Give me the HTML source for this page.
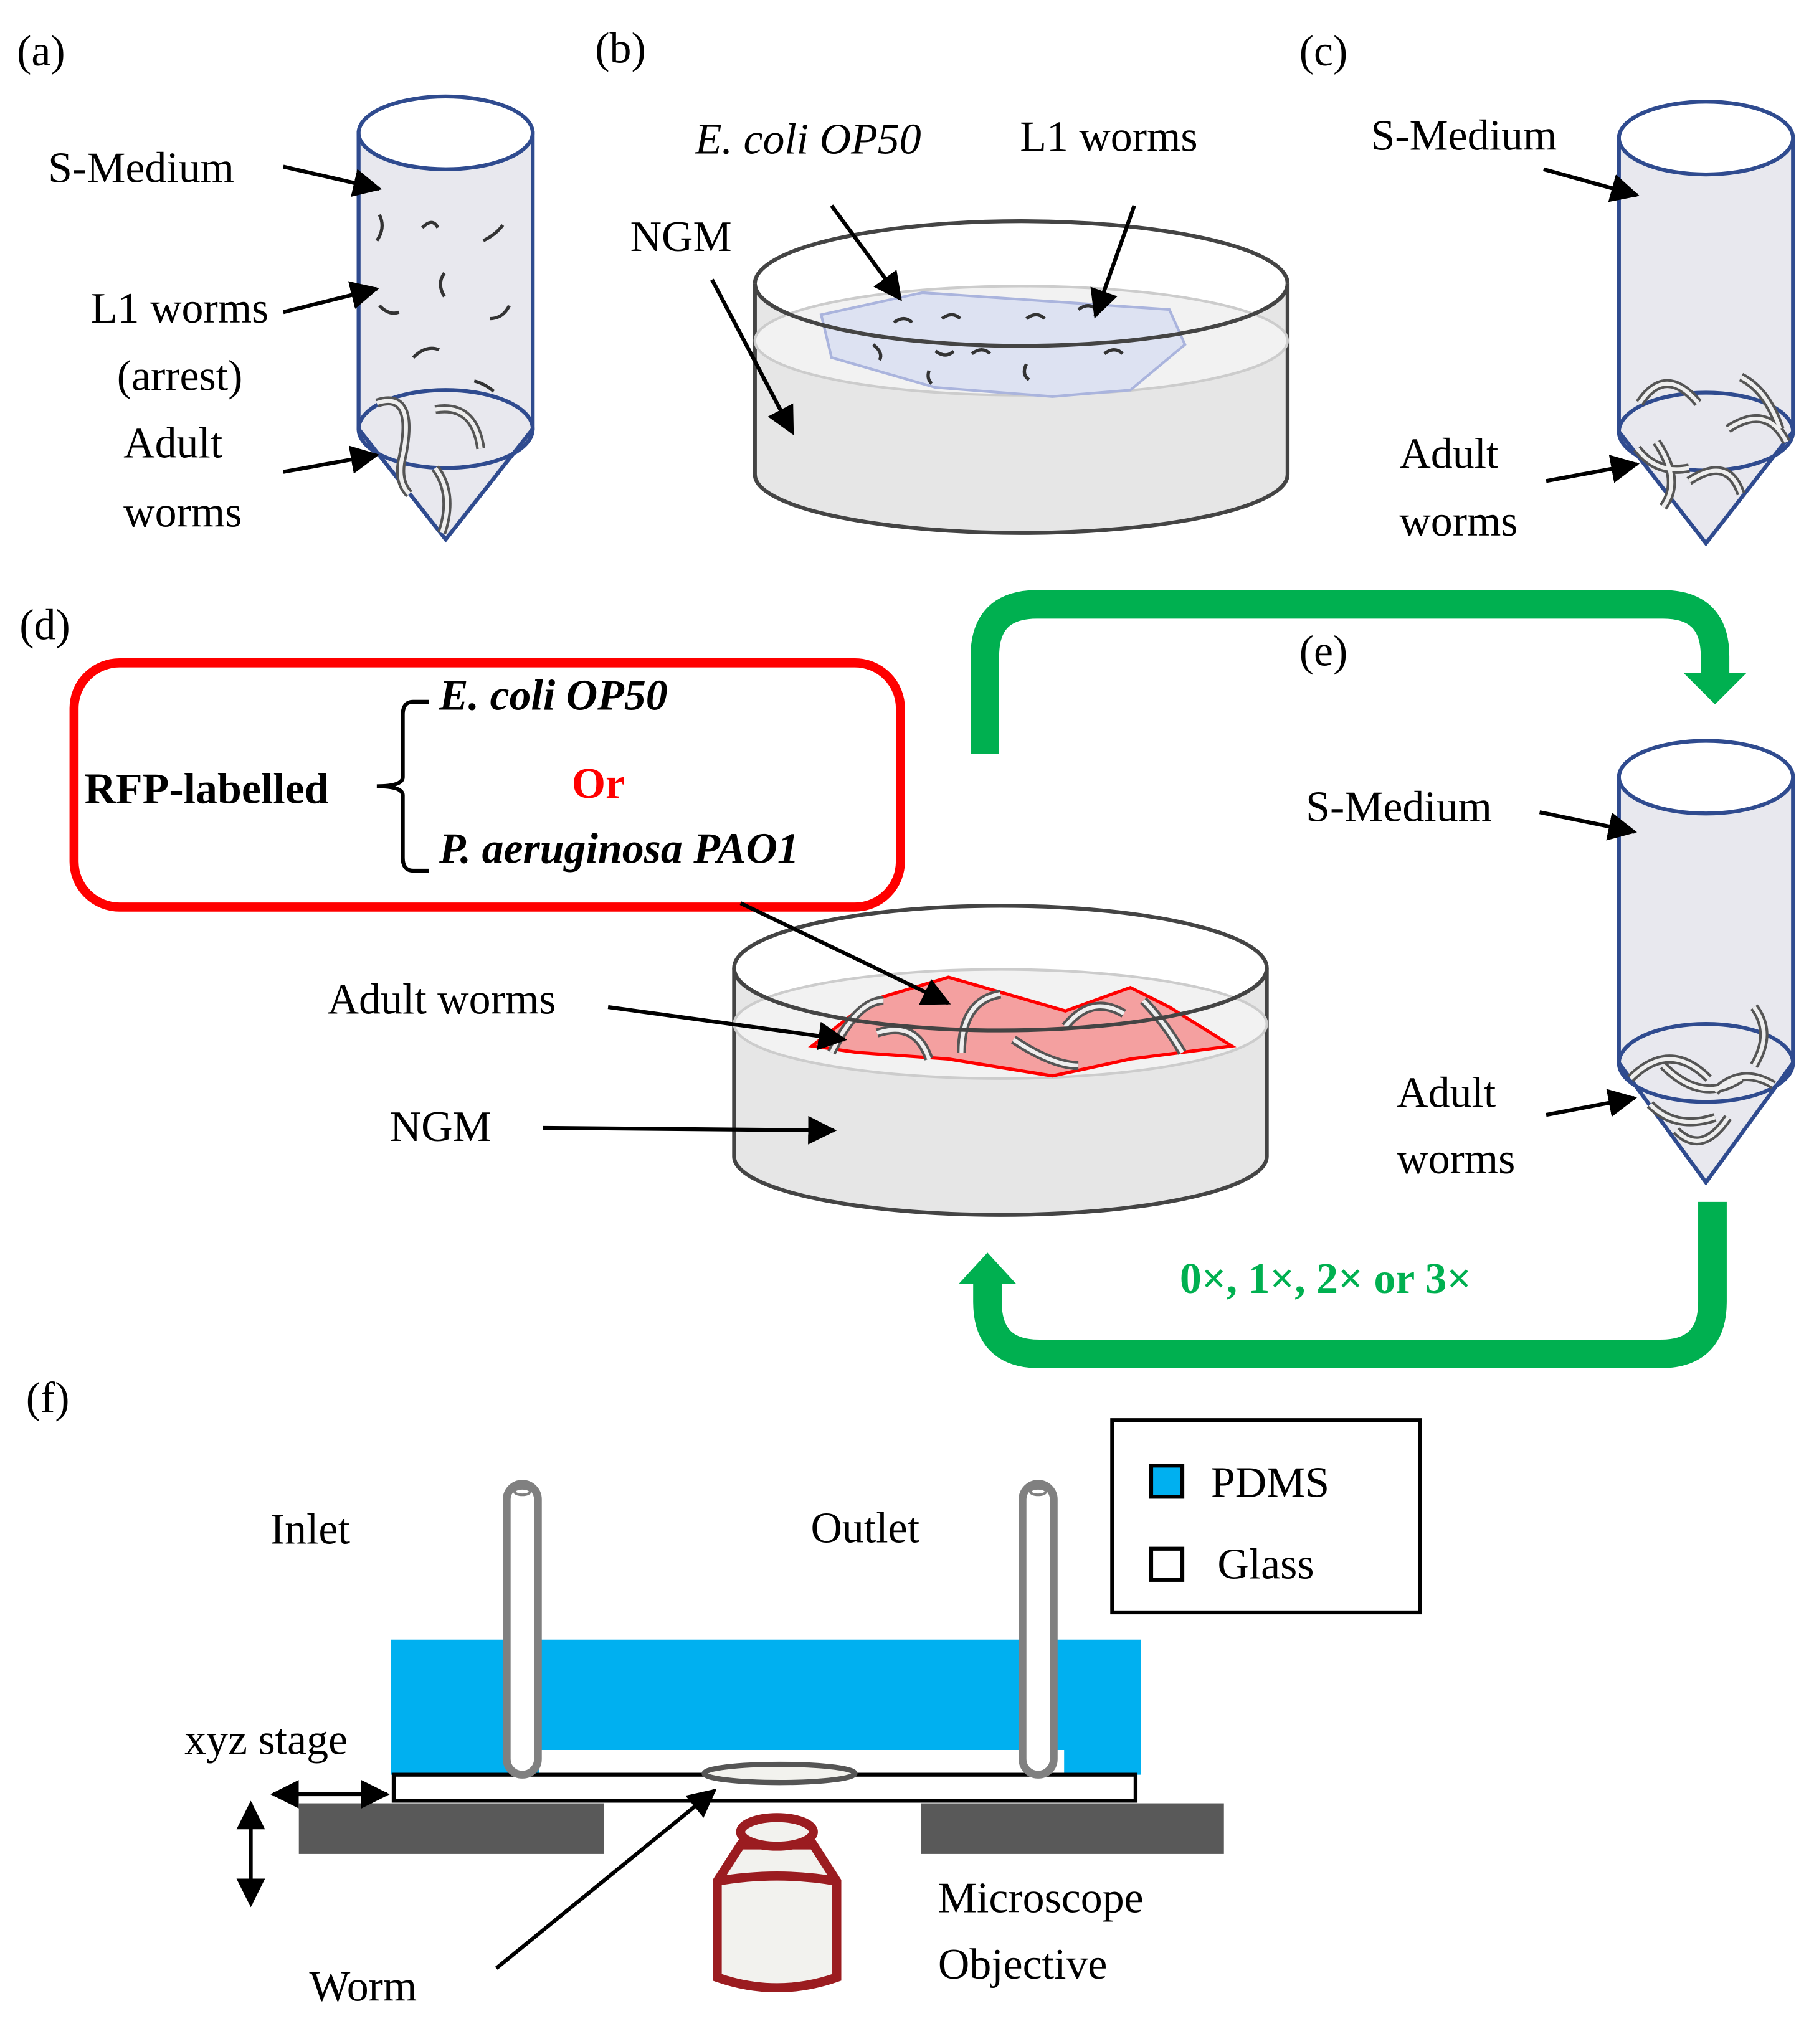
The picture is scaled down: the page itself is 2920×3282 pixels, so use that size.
<!DOCTYPE html>
<html><head><meta charset="utf-8"><style>
html,body{margin:0;padding:0;background:#fff;}
svg{display:block;}
text{font-family:"Liberation Serif",serif;font-size:33.5px;fill:#000;}
</style></head><body>
<svg width="2920" height="3282" viewBox="0 0 1400 1573" xmlns="http://www.w3.org/2000/svg">
<defs>
<marker id="ah2" markerWidth="22" markerHeight="22" refX="20" refY="11" orient="auto" markerUnits="userSpaceOnUse" viewBox="0 0 22 22">
<path d="M0,0 L22,11 L0,22 z" fill="#000"/></marker>
<marker id="ahs" markerWidth="22" markerHeight="22" refX="20" refY="11" orient="auto-start-reverse" markerUnits="userSpaceOnUse" viewBox="0 0 22 22">
<path d="M0,0 L22,11 L0,22 z" fill="#000"/></marker>
</defs>

<!-- (a) -->
<text x="13" y="50">(a)</text>
<g stroke="#2f4b8f" stroke-width="3" fill="#e8e8ee">
<path d="M276,102 L276,330 L343,415 L410,330 L410,102 Z"/>
<ellipse cx="343" cy="102" rx="67" ry="28" fill="#fff"/>
<ellipse cx="343" cy="330" rx="67" ry="30" fill="none"/>
</g>
<g stroke="#333" stroke-width="2.5" fill="none">
<path d="M292,165 q5,10 -2,20"/><path d="M325,175 q8,-8 12,0"/><path d="M372,185 q10,-5 15,-12"/>
<path d="M342,210 q-6,8 0,18"/><path d="M292,235 q8,8 15,5"/><path d="M377,245 q10,0 15,-10"/>
<path d="M318,275 q10,-10 20,-6"/><path d="M365,293 q8,2 15,8"/>
</g>
<g stroke="#555" stroke-width="7" fill="none"><path d="M290,310 q30,-10 20,40 q-5,20 5,30"/><path d="M335,315 q30,-5 35,30"/><path d="M335,360 q15,20 5,50"/></g>
<g stroke="#eee" stroke-width="3" fill="none"><path d="M290,310 q30,-10 20,40 q-5,20 5,30"/><path d="M335,315 q30,-5 35,30"/><path d="M335,360 q15,20 5,50"/></g>
<text x="37" y="140">S-Medium</text>
<text x="70" y="248">L1 worms</text>
<text x="90" y="300">(arrest)</text>
<text x="95" y="352">Adult</text>
<text x="95" y="405">worms</text>
<g stroke="#000" stroke-width="3" marker-end="url(#ah2)">
<line x1="218" y1="128" x2="292" y2="145"/><line x1="218" y1="240" x2="290" y2="222"/><line x1="218" y1="363" x2="290" y2="350"/>
</g>

<!-- (b) -->
<text x="458" y="48">(b)</text>
<g stroke="#444" stroke-width="3">
<path d="M581,218 L581,365 A205,45 0 0 0 991,365 L991,218 A205,48 0 0 1 581,218 Z" fill="#e6e6e6"/>
<ellipse cx="786" cy="262" rx="205" ry="42" fill="#f2f2f2" stroke="#ccc" stroke-width="2"/>
<path d="M581,218 A205,48 0 0 1 991,218" fill="none"/>
</g>
<path d="M632,242 L710,225 L900,238 L912,265 L870,300 L810,305 L720,298 L640,275 Z" fill="#dde2f2" stroke="#aab4dd" stroke-width="2"/>
<g stroke="#333" stroke-width="2.5" fill="none">
<path d="M688,248 q8,-6 14,0"/><path d="M725,245 q8,-6 14,0"/><path d="M790,245 q8,-6 14,0"/><path d="M830,238 q8,-6 14,0"/>
<path d="M672,265 q8,6 5,12"/><path d="M720,270 q8,6 14,0"/><path d="M748,272 q8,-6 14,0"/><path d="M790,280 q-4,8 2,12"/><path d="M850,272 q8,-6 14,0"/><path d="M715,285 q-2,6 2,10"/>
</g>
<path d="M581,218 A205,48 0 0 0 991,218" fill="none" stroke="#444" stroke-width="3"/>
<text x="535" y="118" font-style="italic">E. coli OP50</text>
<text x="785" y="116">L1 worms</text>
<text x="485" y="193">NGM</text>
<g stroke="#000" stroke-width="3" marker-end="url(#ah2)">
<line x1="640" y1="158" x2="693" y2="230"/><line x1="873" y1="158" x2="843" y2="243"/><line x1="548" y1="215" x2="610" y2="333"/>
</g>

<!-- (c) -->
<text x="1000" y="50">(c)</text>
<g stroke="#2f4b8f" stroke-width="3" fill="#e8e8ee">
<path d="M1246,106 L1246,332 L1313,418 L1380,332 L1380,106 Z"/>
<ellipse cx="1313" cy="106" rx="67" ry="28" fill="#fff"/>
<ellipse cx="1313" cy="332" rx="67" ry="30" fill="none"/>
</g>
<g fill="none">
<g stroke="#555" stroke-width="7"><path d="M1262,310 q20,-30 45,0"/><path d="M1275,340 q20,30 5,50"/><path d="M1300,370 q30,-20 40,10"/><path d="M1330,330 q30,-20 45,10"/><path d="M1340,290 q20,10 30,40"/><path d="M1260,345 q15,20 40,15"/></g>
<g stroke="#eee" stroke-width="3"><path d="M1262,310 q20,-30 45,0"/><path d="M1275,340 q20,30 5,50"/><path d="M1300,370 q30,-20 40,10"/><path d="M1330,330 q30,-20 45,10"/><path d="M1340,290 q20,10 30,40"/><path d="M1260,345 q15,20 40,15"/></g>
</g>
<text x="1055" y="115">S-Medium</text>
<text x="1077" y="360">Adult</text>
<text x="1077" y="412">worms</text>
<g stroke="#000" stroke-width="3" marker-end="url(#ah2)">
<line x1="1188" y1="130" x2="1260" y2="150"/><line x1="1190" y1="370" x2="1260" y2="357"/>
</g>

<!-- (d) -->
<text x="15" y="492">(d)</text>
<rect x="57" y="510" width="636" height="188" rx="35" fill="none" stroke="#ff0000" stroke-width="7"/>
<text x="65" y="618" font-weight="bold">RFP-labelled</text>
<path d="M330,540 L318,540 Q310,540 310,550 L310,598 Q310,605 290,605 Q310,605 310,612 L310,660 Q310,670 318,670 L330,670" fill="none" stroke="#000" stroke-width="3"/>
<text x="338" y="546" font-weight="bold" font-style="italic">E. coli OP50</text>
<text x="440" y="614" font-weight="bold" style="fill:#ff0000">Or</text>
<text x="338" y="664" font-weight="bold" font-style="italic">P. aeruginosa PAO1</text>
<g stroke="#444" stroke-width="3">
<path d="M565,745 L565,890 A205,45 0 0 0 975,890 L975,745 A205,48 0 0 1 565,745 Z" fill="#e6e6e6"/>
<ellipse cx="770" cy="788" rx="205" ry="42" fill="#f2f2f2" stroke="#ccc" stroke-width="2"/>
<path d="M565,745 A205,48 0 0 1 975,745" fill="none"/>
</g>
<path d="M625,805 L670,770 L730,752 L820,778 L870,760 L900,775 L948,805 L870,815 L810,828 L730,815 L660,810 Z" fill="#f4a0a0" stroke="#ff0000" stroke-width="2.5"/>
<g fill="none">
<g stroke="#555" stroke-width="7"><path d="M640,810 q20,-40 40,-40"/><path d="M675,795 q30,-10 40,20"/><path d="M740,810 q0,-40 30,-45"/><path d="M780,800 q30,20 50,20"/><path d="M820,790 q20,-25 45,-10"/><path d="M880,770 q15,15 30,40"/></g>
<g stroke="#eee" stroke-width="3"><path d="M640,810 q20,-40 40,-40"/><path d="M675,795 q30,-10 40,20"/><path d="M740,810 q0,-40 30,-45"/><path d="M780,800 q30,20 50,20"/><path d="M820,790 q20,-25 45,-10"/><path d="M880,770 q15,15 30,40"/></g>
</g>
<path d="M565,745 A205,48 0 0 0 975,745" fill="none" stroke="#444" stroke-width="3"/>
<text x="252" y="780">Adult worms</text>
<text x="300" y="878">NGM</text>
<g stroke="#000" stroke-width="3" marker-end="url(#ah2)">
<line x1="468" y1="775" x2="650" y2="800"/><line x1="418" y1="868" x2="642" y2="870"/><line x1="570" y1="695" x2="730" y2="772"/>
</g>

<!-- green arrows -->
<g stroke="#00b050" stroke-width="22" fill="none">
<path d="M758,580 L758,505 Q758,465 798,465 L1280,465 Q1320,465 1320,505 L1320,520"/>
<path d="M1318,925 L1318,1002 Q1318,1042 1278,1042 L800,1042 Q760,1042 760,1002 L760,985"/>
</g>
<path d="M1296,518 L1344,518 L1320,542 Z" fill="#00b050"/>
<path d="M738,988 L782,988 L760,964 Z" fill="#00b050"/>
<text x="908" y="995" font-weight="bold" style="fill:#00b050">0×, 1×, 2× or 3×</text>

<!-- (e) -->
<text x="1000" y="512">(e)</text>
<g stroke="#2f4b8f" stroke-width="3" fill="#e8e8ee">
<path d="M1246,598 L1246,818 L1313,910 L1380,818 L1380,598 Z"/>
<ellipse cx="1313" cy="598" rx="67" ry="28" fill="#fff"/>
<ellipse cx="1313" cy="818" rx="67" ry="30" fill="none"/>
</g>
<g fill="none">
<g stroke="#555" stroke-width="7"><path d="M1255,830 q30,-30 60,0"/><path d="M1280,820 q30,30 60,10"/><path d="M1350,775 q15,20 0,45"/><path d="M1270,850 q20,20 50,10"/><path d="M1290,870 q20,20 40,-10"/><path d="M1320,840 q20,-20 45,-5"/></g>
<g stroke="#eee" stroke-width="3"><path d="M1255,830 q30,-30 60,0"/><path d="M1280,820 q30,30 60,10"/><path d="M1350,775 q15,20 0,45"/><path d="M1270,850 q20,20 50,10"/><path d="M1290,870 q20,20 40,-10"/><path d="M1320,840 q20,-20 45,-5"/></g>
</g>
<text x="1005" y="632">S-Medium</text>
<text x="1075" y="852">Adult</text>
<text x="1075" y="903">worms</text>
<g stroke="#000" stroke-width="3" marker-end="url(#ah2)">
<line x1="1185" y1="625" x2="1258" y2="640"/><line x1="1190" y1="858" x2="1258" y2="845"/>
</g>

<!-- (f) -->
<text x="20" y="1087">(f)</text>
<rect x="856" y="1093" width="237" height="148" fill="#fff" stroke="#000" stroke-width="3"/>
<rect x="886" y="1128" width="24" height="24" fill="#00b0f0" stroke="#000" stroke-width="3"/>
<text x="932" y="1152">PDMS</text>
<rect x="886" y="1192" width="24" height="24" fill="#fff" stroke="#000" stroke-width="3"/>
<text x="937" y="1215">Glass</text>
<path d="M301,1262 L878,1262 L878,1366 L819,1366 L819,1347 L415,1347 L415,1366 L301,1366 Z" fill="#00b0f0"/>
<rect x="303" y="1366" width="571" height="20" fill="#fff" stroke="#000" stroke-width="3"/>
<g fill="#fff" stroke="#808080" stroke-width="6">
<rect x="390" y="1142" width="24" height="224" rx="12"/>
<rect x="787" y="1142" width="24" height="224" rx="12"/>
</g>
<ellipse cx="402" cy="1148" rx="6" ry="2.5" fill="#fff" stroke="#808080" stroke-width="2"/>
<ellipse cx="799" cy="1148" rx="6" ry="2.5" fill="#fff" stroke="#808080" stroke-width="2"/>
<ellipse cx="600" cy="1365" rx="58" ry="7" fill="#f2f2ee" stroke="#555" stroke-width="4"/>
<rect x="230" y="1388" width="235" height="39" fill="#595959"/>
<rect x="709" y="1388" width="233" height="39" fill="#595959"/>
<g stroke="#9b1c20" stroke-width="7" fill="#f2f2ee">
<path d="M552,1448 L552,1522 Q598,1538 644,1522 L644,1448 L626,1420 L570,1420 Z"/>
<path d="M552,1448 Q598,1440 644,1448" fill="none"/>
<ellipse cx="598" cy="1410" rx="28" ry="11"/>
</g>
<text x="208" y="1188">Inlet</text>
<text x="624" y="1187">Outlet</text>
<text x="142" y="1350">xyz stage</text>
<text x="238" y="1540">Worm</text>
<text x="722" y="1472">Microscope</text>
<text x="722" y="1523">Objective</text>
<g stroke="#000" stroke-width="3">
<line x1="210" y1="1381" x2="298" y2="1381" marker-start="url(#ahs)" marker-end="url(#ahs)"/>
<line x1="193" y1="1388" x2="193" y2="1466" marker-start="url(#ahs)" marker-end="url(#ahs)"/>
<line x1="382" y1="1515" x2="550" y2="1378" marker-end="url(#ah2)"/>
</g>
</svg>
</body></html>
